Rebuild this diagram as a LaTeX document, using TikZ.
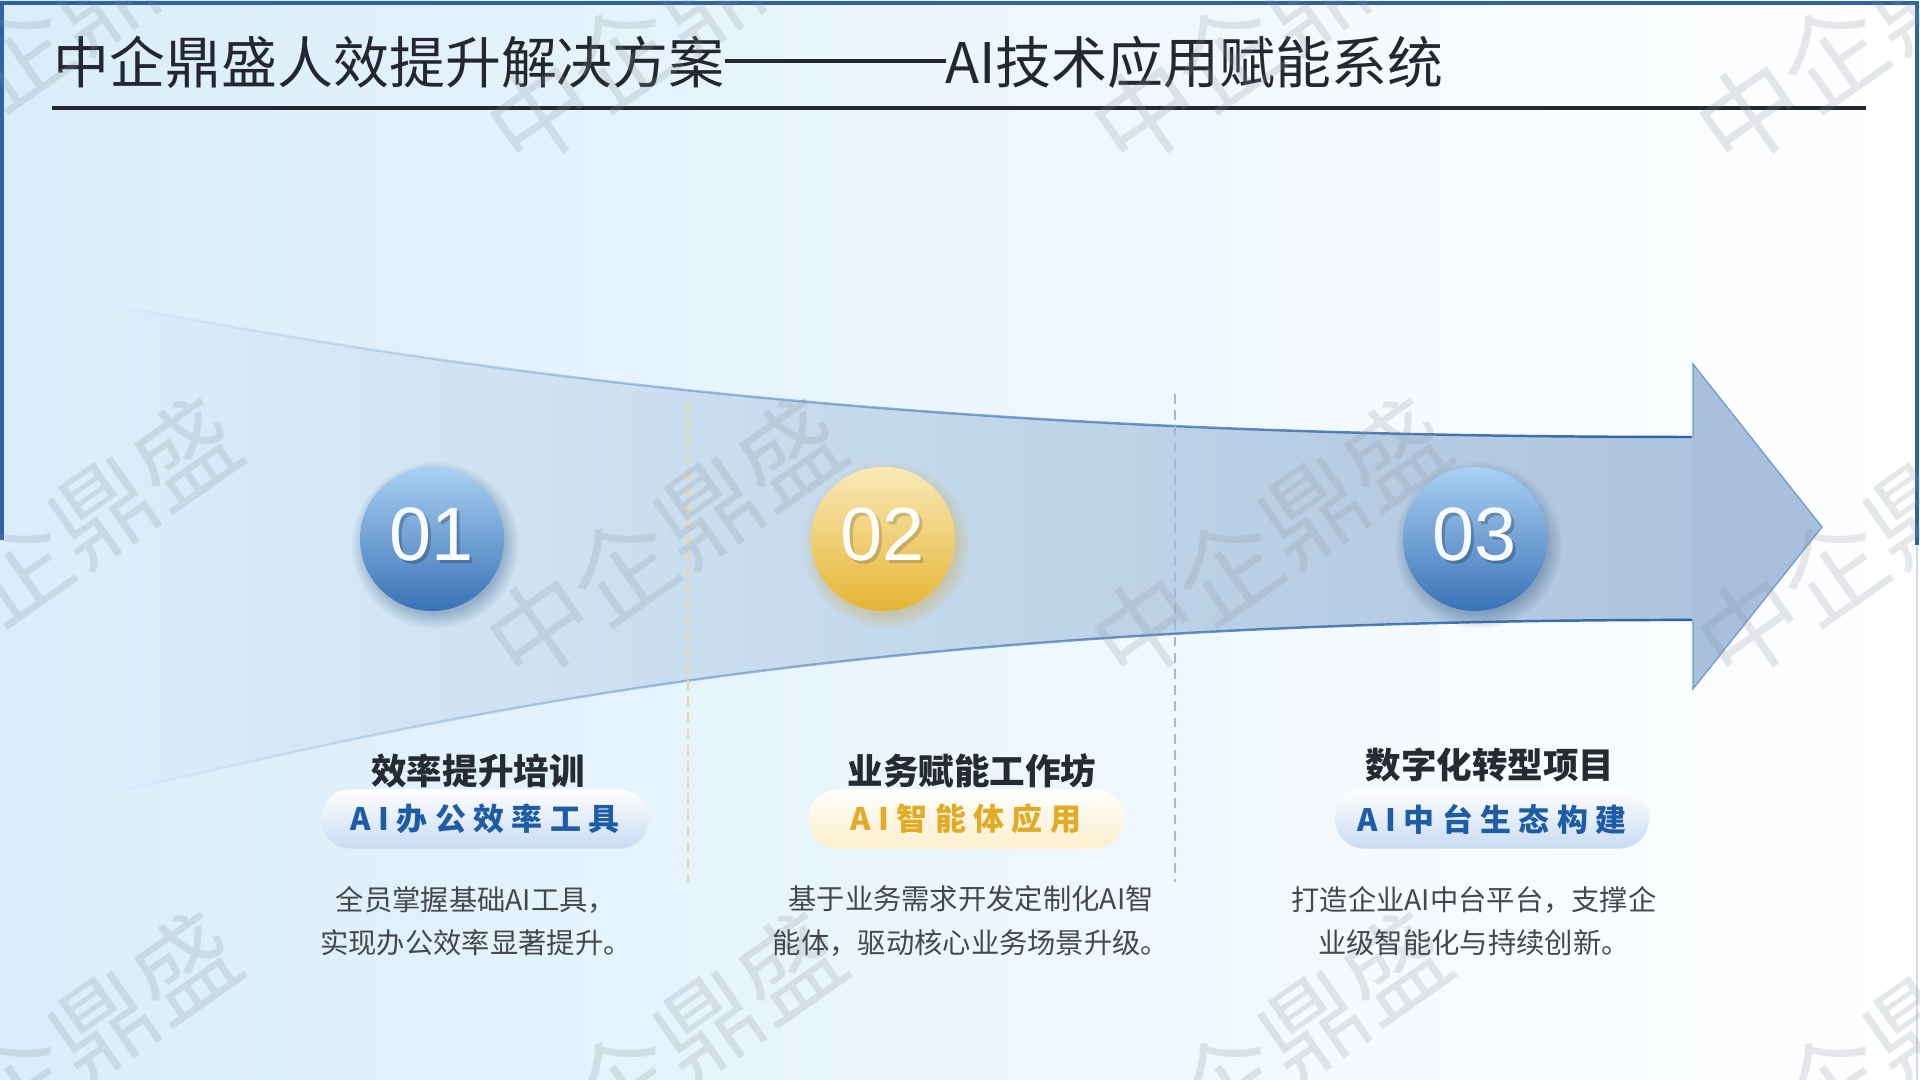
\documentclass[tikz,border=0pt]{standalone}
\usepackage{fontspec}
\setmainfont{Noto Sans CJK SC}
\newfontfamily\numfont{Liberation Sans}
\newfontfamily\pillfont[LetterSpace=24]{Noto Sans CJK SC}
\usetikzlibrary{fadings}
\definecolor{bgL}{HTML}{D9EDFA}
\definecolor{bgM}{HTML}{EDF9FE}
\definecolor{framec}{HTML}{2D62A5}
\definecolor{titlec}{HTML}{24272F}
\definecolor{bandL}{HTML}{DAEDF9}
\definecolor{bandR}{HTML}{AEC4DE}
\definecolor{headfill}{HTML}{A8C0DD}
\definecolor{headline}{HTML}{7099CB}
\definecolor{edgec}{HTML}{2B62A8}
\definecolor{blueL}{HTML}{AAD0F3}
\definecolor{blueD}{HTML}{3A72B7}
\definecolor{yelL}{HTML}{FAEAB8}
\definecolor{yelD}{HTML}{E5B435}
\definecolor{headc}{HTML}{262A33}
\definecolor{descc}{HTML}{45474F}
\definecolor{pillblue}{HTML}{1F5CA6}
\definecolor{pillyel}{HTML}{E2AA25}
\definecolor{pillBb}{HTML}{C8DBF3}
\definecolor{pillYb}{HTML}{FCEECB}
\definecolor{dashY}{HTML}{EBD898}
\definecolor{dashB}{HTML}{A3B9D6}
\definecolor{wmc}{HTML}{8C949C}
\tikzfading[name=edgefade, left color=transparent!100, middle color=transparent!20, right color=transparent!0]
\tikzset{
  frame/.style={draw=framec, line width=0.9pt},
  edgeline/.style={draw=edgec, line width=0.7pt, path fading=edgefade, fit fading=true},
  wm/.style={font=\fontsize{29pt}{30pt}\selectfont, text=wmc, opacity=0.22, inner sep=0, rotate=35},
  ball/.style={circle, minimum size=1.44cm, inner sep=0, shading angle=45},
  ballshadow/.style={fill=#1, opacity=0.35, path fading=circle with fuzzy edge 20 percent},
  numtxt/.style={font=\numfont\fontsize{21.5pt}{24pt}\selectfont, inner sep=0},
  head/.style={font=\fontsize{10.1pt}{12pt}\selectfont\bfseries, text=headc, inner sep=0},
  desc/.style={font=\fontsize{8.05pt}{12.3pt}\selectfont, text=descc, align=center, inner sep=0},
  pill/.style={rounded corners=0.295cm, minimum height=0.59cm, inner sep=0,
    font=\pillfont\bfseries\fontsize{8.8pt}{10pt}\selectfont},
  dashline/.style={line width=0.45pt, dash pattern=on 2.8pt off 1.8pt},
}
\begin{document}
\begin{tikzpicture}[x=0.01cm,y=-0.01cm]
\useasboundingbox (0,0) rectangle (1920,1080);
% background
\shade[left color=bgL, middle color=bgM, right color=white] (0,0) rectangle (1920,1080);
% frame
\coordinate (fl) at (2,540);
\coordinate (ftl) at (2,3);
\coordinate (ftr) at (1917,3);
\coordinate (fr) at (1917,545);
\coordinate (fb) at (1917,1080);
\draw[frame] (fl) -- (ftl) -- (ftr) -- (fr);
\draw[draw=dashB!50, line width=0.5pt] (fr) -- (fb);
% title
\node[anchor=west, inner sep=0, font=\fontsize{15.9pt}{18pt}\selectfont, text=titlec] (title) at (53,62) {中企鼎盛人效提升解决方案\rule[0.36em]{3.95em}{0.07em}AI技术应用赋能系统};
\coordinate (rl) at (52,108);
\coordinate (rr) at (1866,108);
\draw[titlec, line width=1pt] (rl) -- (rr);
% band
\coordinate (u0) at (110,304);
\coordinate (u1) at (1693,437);
\coordinate (l1) at (1693,620);
\coordinate (l0) at (110,794);
\coordinate (ht) at (1693,364);
\coordinate (tip) at (1822,527);
\coordinate (hb) at (1693,689);
\shade[left color=bandL, right color=bandR] (u0) .. controls (600,400) and (1100,437) .. (u1) -- (l1) .. controls (850,620) and (450,715) .. (l0) -- cycle;
\fill[headfill] (ht) -- (tip) -- (hb) -- cycle;
\draw[headline, line width=0.35pt, line join=miter] (u1) -- (ht) -- (tip) -- (hb) -- (l1);
\draw[edgeline] (u0) .. controls (600,400) and (1100,437) .. (u1);
\draw[edgeline] (l0) .. controls (450,715) and (850,620) .. (l1);
% dashed separators
\coordinate (dy0) at (688,405);
\coordinate (dy1) at (688,882);
\coordinate (db0) at (1175,394);
\coordinate (db1) at (1175,882);
\draw[dashline, dashY] (dy0) -- (dy1);
\draw[dashline, dashB] (db0) -- (db1);
% watermarks
\foreach \wx in {60,665,1270,1875}{
  \foreach \wy in {26,540,1054}{
    \node[wm] (wm-\wx-\wy) at (\wx,\wy) {中企鼎盛};
  }
}
% circle shadows
\fill[ballshadow=blueD!70!black] (435,545) circle [radius=84];
\fill[ballshadow=yelD!90!black] (886,545) circle [radius=84];
\fill[ballshadow=blueD!70!black] (1478,545) circle [radius=84];
% circles
\node[ball, top color=blueL, bottom color=blueD] (c1) at (432,539) {};
\node[ball, top color=yelL, bottom color=yelD] (c2) at (883,539) {};
\node[ball, top color=blueL, bottom color=blueD] (c3) at (1475,539) {};
\node[numtxt, text=black, opacity=0.22, xshift=0.7pt, yshift=0.5pt] (n1s) at (c1) {01};
\node[numtxt, text=black, opacity=0.16, xshift=0.7pt, yshift=0.5pt] (n2s) at (c2) {02};
\node[numtxt, text=black, opacity=0.22, xshift=0.7pt, yshift=0.5pt] (n3s) at (c3) {03};
\node[numtxt, text=white!92!blueL, yshift=1.4pt] (n1) at (c1) {01};
\node[numtxt, text=white!90!yelL, yshift=1.4pt] (n2) at (c2) {02};
\node[numtxt, text=white!92!blueL, yshift=1.4pt] (n3) at (c3) {03};
% headings
\node[head] (h1) at (478,771) {效率提升培训};
\node[head] (h2) at (972,771) {业务赋能工作坊};
\node[head] (h3) at (1490,765) {数字化转型项目};
% pills
\node[pill, minimum width=3.28cm, top color=white, bottom color=pillBb, text=pillblue] (p1) at (485,819) {AI办公效率工具};
\node[pill, minimum width=3.16cm, top color=white, bottom color=pillYb, text=pillyel] (p2) at (966,819) {AI智能体应用};
\node[pill, minimum width=3.14cm, top color=white, bottom color=pillBb, text=pillblue] (p3) at (1492,819) {AI中台生态构建};
% descriptions
\node[desc] (d1) at (476,921) {全员掌握基础AI工具，\\实现办公效率显著提升。};
\node[desc] (d2) at (971,921) {基于业务需求开发定制化AI智\\能体，驱动核心业务场景升级。};
\node[desc] (d3) at (1474,921) {打造企业AI中台平台，支撑企\\业级智能化与持续创新。};
\end{tikzpicture}
\end{document}
